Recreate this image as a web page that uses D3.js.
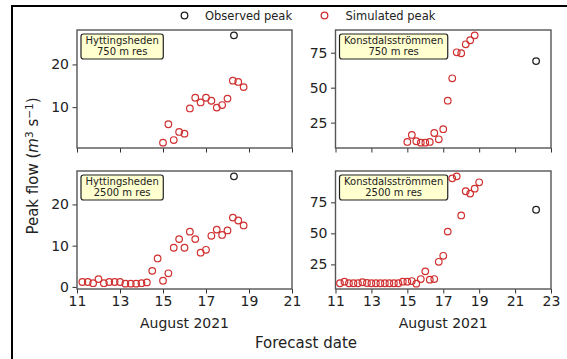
<!DOCTYPE html>
<html>
<head>
<meta charset="utf-8">
<script src="https://cdn.jsdelivr.net/npm/d3@7"></script>
<style>
  body { margin: 0; background: #fff; }
  svg { display: block; font-family: "DejaVu Sans", sans-serif; }
</style>
</head>
<body>
<div id="chart"></div>
<script>
// forecast issue dates (day of August 2021) and simulated peaks, per catchment / resolution
const hyt750Dates = [15.0, 15.25, 15.5, 15.75, 16.0, 16.25, 16.5, 16.75, 17.0, 17.25, 17.5, 17.75, 18.0, 18.25, 18.5, 18.75];
const hyt750Peaks = [1.7, 6.0, 2.3, 4.2, 3.8, 9.7, 12.2, 11.1, 12.2, 11.5, 9.9, 10.5, 12.0, 16.2, 15.9, 14.7];

const hyt2500Dates = [11.25, 11.5, 11.75, 12.0, 12.25, 12.5, 12.75, 13.0, 13.25, 13.5, 13.75, 14.0, 14.25,
  14.5, 14.75, 15.0, 15.25, 15.5, 15.75, 16.0, 16.25, 16.5, 16.75, 17.0, 17.25, 17.5, 17.75, 18.0, 18.25, 18.5, 18.75];
const hyt2500Peaks = [1.2, 1.2, 0.9, 1.9, 0.9, 1.2, 1.2, 1.2, 0.8, 0.8, 0.8, 0.9, 1.1,
  3.9, 6.9, 1.5, 3.3, 9.5, 11.6, 9.5, 13.4, 11.6, 8.3, 9.0, 12.4, 13.9, 12.6, 13.7, 16.8, 16.1, 14.9];

const kon750Dates = [15.0, 15.25, 15.5, 15.75, 16.0, 16.25, 16.5, 16.75, 17.0, 17.25, 17.5, 17.75, 18.0, 18.25, 18.5, 18.75];
const kon750Peaks = [11.2, 16.2, 11.7, 10.7, 10.7, 11.2, 17.6, 13.1, 20.3, 40.7, 56.7, 75.3, 74.6, 81.0, 83.9, 87.4];

const kon2500Dates = [11.25, 11.5, 11.75, 12.0, 12.25, 12.5, 12.75, 13.0, 13.25, 13.5, 13.75, 14.0, 14.25, 14.5,
  14.75, 15.0, 15.25, 15.5, 15.75, 16.0, 16.25, 16.5, 16.75, 17.0, 17.25, 17.5, 17.75, 18.0, 18.25, 18.5, 18.75, 19.0];
const kon2500Peaks = [9.8, 11.1, 9.8, 9.8, 9.8, 10.6, 10.0, 9.8, 9.8, 9.8, 9.8, 9.8, 9.8, 9.8,
  11.1, 11.1, 11.6, 9.5, 13.2, 19.4, 12.7, 13.2, 27.1, 31.9, 51.4, 94.3, 95.9, 64.4, 83.9, 82.0, 86.0, 91.1];

// observed peaks
const hytObsDate = 18.3, hytObsPeak = 26.8;
const konObsDate = 22.17, konObsPeak = 69.0;

// tick labels
const leftDateTicks = [11, 13, 15, 17, 19, 21];
const rightDateTicks = [11, 13, 15, 17, 19, 21, 23];
const leftFlowTicks = [0, 10, 20];
const rightFlowTicks = [25, 50, 75];

const W = 567, H = 359;
const simColor = "#d03030", obsColor = "#222";
const frameColor = "#555";

const svg = d3.select("#chart").append("svg")
  .attr("width", W).attr("height", H);

svg.append("rect").attr("width", W).attr("height", H).attr("fill", "#fff");
// outer figure border (runs off the right and bottom edges)
svg.append("rect").attr("x", 12).attr("y", 6).attr("width", 620).attr("height", 420)
  .attr("fill", "none").attr("stroke", "#000").attr("stroke-width", 2);

const cols = [{ x0: 77, x1: 292 }, { x0: 335.5, x1: 551 }];
const rows = [{ y0: 30, y1: 148 }, { y0: 171, y1: 289 }];

const panels = [
  { col: 0, row: 0, name: "Hyttingsheden", res: "750 m res", dates: hyt750Dates, peaks: hyt750Peaks,
    obsD: hytObsDate, obsP: hytObsPeak, xDom: [11, 21], xt: leftDateTicks, yt: leftFlowTicks },
  { col: 1, row: 0, name: "Konstdalsströmmen", res: "750 m res", dates: kon750Dates, peaks: kon750Peaks,
    obsD: konObsDate, obsP: konObsPeak, xDom: [11, 23], xt: rightDateTicks, yt: rightFlowTicks },
  { col: 0, row: 1, name: "Hyttingsheden", res: "2500 m res", dates: hyt2500Dates, peaks: hyt2500Peaks,
    obsD: hytObsDate, obsP: hytObsPeak, xDom: [11, 21], xt: leftDateTicks, yt: leftFlowTicks },
  { col: 1, row: 1, name: "Konstdalsströmmen", res: "2500 m res", dates: kon2500Dates, peaks: kon2500Peaks,
    obsD: konObsDate, obsP: konObsPeak, xDom: [11, 23], xt: rightDateTicks, yt: rightFlowTicks }
];

panels.forEach(p => {
  const c = cols[p.col], r = rows[p.row];
  const x = d3.scaleLinear().domain(p.xDom).range([c.x0, c.x1]);

  // matplotlib-like 5% y margins
  const all = p.peaks.concat([p.obsP]);
  const lo = d3.min(all), hi = d3.max(all), pad = (hi - lo) * 0.05;
  const y = d3.scaleLinear().domain([lo - pad, hi + pad]).range([r.y1, r.y0]);

  const g = svg.append("g");

  const xAxis = g.append("g")
    .attr("transform", `translate(0,${r.y1})`)
    .call(d3.axisBottom(x).tickValues(p.xt).tickSize(4.5).tickPadding(3)
      .tickFormat(p.row === 1 ? d3.format("d") : ""));
  const yAxis = g.append("g")
    .attr("transform", `translate(${c.x0},0)`)
    .call(d3.axisLeft(y).tickValues(p.yt.filter(v => v >= y.domain()[0] && v <= y.domain()[1]))
      .tickSize(4.5).tickPadding(3.5));

  [xAxis, yAxis].forEach(a => {
    a.select(".domain").remove();
    a.selectAll("line").attr("stroke", "#333").attr("stroke-width", 1);
    a.selectAll("text").attr("fill", "#222").style("font-size", "14px")
      .style("font-family", "'DejaVu Sans', sans-serif");
  });

  g.append("rect").attr("x", c.x0).attr("y", r.y0)
    .attr("width", c.x1 - c.x0).attr("height", r.y1 - r.y0)
    .attr("fill", "none").attr("stroke", frameColor).attr("stroke-width", 1.4);

  g.selectAll("circle.sim").data(p.dates.map((d, i) => [d, p.peaks[i]]))
    .enter().append("circle").attr("class", "sim")
    .attr("cx", d => x(d[0])).attr("cy", d => y(d[1])).attr("r", 3.3)
    .attr("fill", "none").attr("stroke", simColor).attr("stroke-width", 1.2);

  g.append("circle").attr("cx", x(p.obsD)).attr("cy", y(p.obsP)).attr("r", 3.3)
    .attr("fill", "none").attr("stroke", obsColor).attr("stroke-width", 1.3);

  // label box
  const bx = c.x0 + 4, by = r.y0 + 4;
  const box = g.append("rect").attr("x", bx).attr("y", by).attr("height", 25)
    .attr("rx", 2.5).attr("fill", "#ffffd0").attr("stroke", "#222").attr("stroke-width", 1.2);
  const t1 = g.append("text").attr("y", by + 10.3).text(p.name)
    .attr("font-size", 10).attr("fill", "#222").attr("text-anchor", "middle");
  const t2 = g.append("text").attr("y", by + 20.6).text(p.res)
    .attr("font-size", 10).attr("fill", "#222").attr("text-anchor", "middle");
  const tw = Math.max(t1.node().getComputedTextLength(), t2.node().getComputedTextLength());
  const bw = tw + 9;
  box.attr("width", bw);
  t1.attr("x", bx + bw / 2);
  t2.attr("x", bx + bw / 2);

  if (p.row === 1) {
    g.append("text").attr("x", (c.x0 + c.x1) / 2).attr("y", 328).attr("text-anchor", "middle")
      .attr("font-size", 14).attr("fill", "#222").text("August 2021");
  }
});

// common axis labels
svg.append("text").attr("x", 306).attr("y", 348).attr("text-anchor", "middle")
  .attr("font-size", 15).attr("fill", "#222").text("Forecast date");

const yl = svg.append("text").attr("transform", "translate(38,166) rotate(-90)")
  .attr("text-anchor", "middle").attr("font-size", 15).attr("fill", "#222");
yl.append("tspan").text("Peak flow (");
yl.append("tspan").attr("font-style", "italic").text("m");
yl.append("tspan").attr("font-size", 10.5).attr("dy", -5.5).text("3");
yl.append("tspan").attr("dy", 5.5).text(" s");
yl.append("tspan").attr("font-size", 10.5).attr("dy", -5.5).text("−1");
yl.append("tspan").attr("dy", 5.5).text(")");

// legend
const legend = [
  { label: "Observed peak", color: obsColor, mx: 184.5, tx: 205 },
  { label: "Simulated peak", color: simColor, mx: 324.5, tx: 345.5 }
];
legend.forEach(l => {
  svg.append("circle").attr("cx", l.mx).attr("cy", 15.5).attr("r", 3.3)
    .attr("fill", "none").attr("stroke", l.color).attr("stroke-width", 1.3);
  svg.append("text").attr("x", l.tx).attr("y", 19.8).attr("font-size", 11.5)
    .attr("fill", "#222").text(l.label);
});
</script>
</body>
</html>
